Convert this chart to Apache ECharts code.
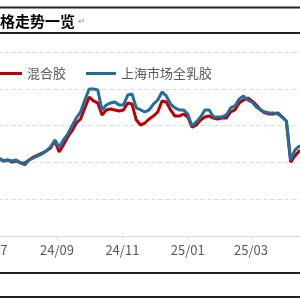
<!DOCTYPE html>
<html>
<head>
<meta charset="utf-8">
<style>
    html, body {margin: 0; padding: 0; background: #fff;}
    #main {width: 300px; height: 300px;}
</style>
<script src="https://cdn.jsdelivr.net/npm/echarts@6/dist/echarts.min.js"></script>
</head>
<body>
<div id="main"></div>
<script>
// sampled dates (every 4 days)
var dates = [
    '2024-07-01','2024-07-05','2024-07-09','2024-07-13','2024-07-17','2024-07-21','2024-07-25','2024-07-29',
    '2024-08-02','2024-08-06','2024-08-10','2024-08-14','2024-08-18','2024-08-22','2024-08-26','2024-08-30',
    '2024-09-03','2024-09-07','2024-09-11','2024-09-15','2024-09-19','2024-09-23','2024-09-27',
    '2024-10-01','2024-10-05','2024-10-09','2024-10-13','2024-10-17','2024-10-21','2024-10-25','2024-10-29',
    '2024-11-02','2024-11-06','2024-11-10','2024-11-14','2024-11-18','2024-11-22','2024-11-26','2024-11-30',
    '2024-12-04','2024-12-08','2024-12-12','2024-12-16','2024-12-20','2024-12-24','2024-12-28',
    '2025-01-01','2025-01-05','2025-01-09','2025-01-13','2025-01-17','2025-01-21','2025-01-25','2025-01-29',
    '2025-02-02','2025-02-06','2025-02-10','2025-02-14','2025-02-18','2025-02-22','2025-02-26',
    '2025-03-02','2025-03-06','2025-03-10','2025-03-14','2025-03-18','2025-03-22','2025-03-26','2025-03-30',
    '2025-04-03','2025-04-07','2025-04-11','2025-04-15','2025-04-19'
];
// 混合胶
var mixed = [
    14190,14130,14190,14080,14130,14020,14080,13970,
    13970,14130,14290,14400,14510,14620,14780,15160,
    14570,14950,15380,15710,16140,16360,16960,
    17550,17340,17230,16580,16850,16900,16850,16790,
    16850,17230,17170,16300,16030,16140,16360,16520,
    16740,17340,17280,16850,16520,16520,16630,
    16470,15920,16030,16300,16470,16520,16410,16360,
    16410,16410,16740,16850,17230,17390,17500,
    17340,17120,16850,16690,16630,16630,16690,16470,
    16250,14020,14350,14620,14570
];
// 上海市场全乳胶
var quanru = [
    14240,14190,14240,14080,14130,14080,14130,13970,
    13860,14130,14240,14350,14460,14620,14840,15220,
    14840,15220,15540,15980,16410,16740,17390,
    17990,17990,17940,16850,17120,17230,17280,17120,
    17120,17660,17720,16960,16850,16740,16850,17170,
    17390,17830,17610,17170,16960,16850,16850,
    16630,15980,16200,16470,16850,16850,16470,16470,
    16470,16580,16960,17070,17450,17610,17390,
    17280,17010,16850,16740,16690,16690,16630,16470,
    16250,14130,14670,14890,14780
];
var names = ['混合胶', '上海市场全乳胶'];

// every calendar day on the axis
var days = [];
var d0 = Date.UTC(2024, 6, 1);
for (var i = 0; i <= 303; i++) {
    days.push(new Date(d0 + i * 86400000).toISOString().slice(0, 10));
}
function isLabelDay(idx, val) {
    var m = parseInt(val.slice(5, 7), 10);
    return val.slice(8) === '01' && m % 2 === 1;
}

var app = echarts.init(document.getElementById('main'));
var option = {
    animation: false,
    graphic: [
        {type: 'line', shape: {x1: 0, y1: 7.5, x2: 300, y2: 7.5}, style: {stroke: '#222', lineWidth: 2}},
        {type: 'line', shape: {x1: 0, y1: 33, x2: 300, y2: 33}, style: {stroke: '#222', lineWidth: 2}},
        {type: 'line', shape: {x1: 0, y1: 273, x2: 300, y2: 273}, style: {stroke: '#222', lineWidth: 2}},
        {type: 'line', shape: {x1: 0, y1: 297, x2: 300, y2: 297}, style: {stroke: '#222', lineWidth: 2}},
        {type: 'text', x: 0, y: 21, style: {text: '格走势一览', fill: '#000', fontSize: 15, fontWeight: 'bold',
            fontFamily: 'Noto Sans CJK SC', verticalAlign: 'middle'}},
        {type: 'text', x: 78, y: 22, style: {text: '↵', fill: '#999', fontSize: 9, verticalAlign: 'middle'}}
    ],
    legend: {
        left: -13,
        top: 62,
        icon: 'rect',
        itemWidth: 30,
        itemHeight: 3,
        itemGap: 20,
        textStyle: {color: '#595959', fontSize: 13, fontFamily: 'Noto Sans CJK SC'},
        data: names
    },
    grid: {
        left: -9.45,
        right: -15.3,
        top: 52,
        bottom: 64,
        outerBoundsMode: 'none'
    },
    xAxis: {
        type: 'category',
        boundaryGap: false,
        data: days,
        axisLine: {lineStyle: {color: '#d9d9d9'}},
        axisTick: {interval: isLabelDay, length: 3, lineStyle: {color: '#d9d9d9'}},
        axisLabel: {
            interval: isLabelDay,
            margin: 8,
            color: '#595959',
            fontSize: 13,
            fontFamily: 'Noto Sans CJK SC',
            formatter: function (val) {
                return val.slice(2, 4) + '/' + val.slice(5, 7);
            }
        }
    },
    yAxis: {
        type: 'value',
        min: 10000,
        max: 20000,
        interval: 2000,
        axisLabel: {show: false},
        axisLine: {show: false},
        axisTick: {show: false},
        splitLine: {lineStyle: {color: '#d9d9d9', type: [4, 3]}}
    },
    series: [
        {
            name: names[0],
            type: 'line',
            symbol: 'none',
            lineStyle: {width: 3},
            data: dates.map(function (d, i) { return [d, mixed[i]]; })
        },
        {
            name: names[1],
            type: 'line',
            symbol: 'none',
            lineStyle: {width: 3},
            data: dates.map(function (d, i) { return [d, quanru[i]]; })
        }
    ],
    color: ['#c00000', '#1f6e9e']
};
app.setOption(option);
</script>
</body>
</html>
